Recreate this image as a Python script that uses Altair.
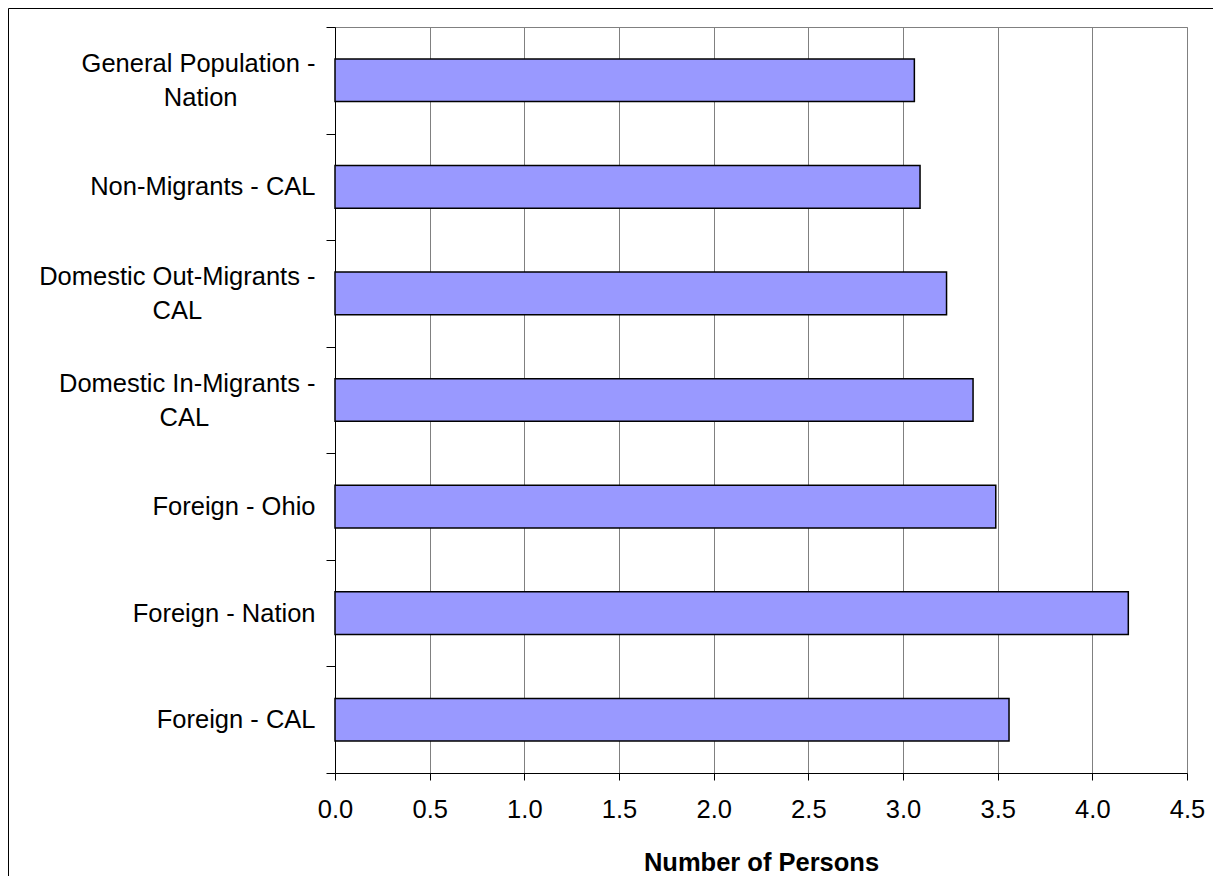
import altair as alt
import pandas as pd

# ---- data ----
categories = [
    "General Population - Nation",
    "Non-Migrants - CAL",
    "Domestic Out-Migrants - CAL",
    "Domestic In-Migrants - CAL",
    "Foreign - Ohio",
    "Foreign - Nation",
    "Foreign - CAL",
]
label_lines = [
    ["General Population -", "Nation"],
    ["Non-Migrants - CAL"],
    ["Domestic Out-Migrants -", "CAL"],
    ["Domestic In-Migrants -", "CAL"],
    ["Foreign - Ohio"],
    ["Foreign - Nation"],
    ["Foreign - CAL"],
]
values = [3.06, 3.09, 3.23, 3.37, 3.49, 4.19, 3.56]
x_ticks = [0.0, 0.5, 1.0, 1.5, 2.0, 2.5, 3.0, 3.5, 4.0, 4.5]

# approximate Arial glyph widths (em) used to centre the second line of wrapped labels
W = {'G': .778, 'e': .556, 'n': .556, 'r': .333, 'a': .556, 'l': .222, ' ': .278,
     'P': .667, 'o': .556, 'p': .556, 'u': .556, 't': .278, 'i': .222, '-': .333,
     'N': .722, 'D': .722, 'm': .833, 's': .5, 'c': .5, 'O': .778, 'I': .278,
     'M': .833, 'g': .556, 'C': .722, 'A': .667, 'L': .556}

ZWSP = "\u200b"


def width(s):
    return sum(W.get(ch, .556) for ch in s)


def make_label(lines):
    if len(lines) == 1:
        return lines[0]
    pad = int(round((width(lines[0]) - width(lines[1])) / 2 / 0.278))
    # trailing no-break spaces centre the short line; the zero-width space keeps them from being trimmed
    return lines[0] + "|" + lines[1] + "\u00a0" * pad + ZWSP


labels = [make_label(l) for l in label_lines]

df = pd.DataFrame({"category": categories, "label": labels, "value": values})

FONT = "Liberation Sans, Arial, sans-serif"
FS = 25.5

# two-line labels -> [line1, blank, line2]; one-line labels -> [blank, text]  (half-line spacing 17px,
# shifted up by 17px, so both kinds are vertically centred on their band). The blank line holds a
# zero-width space so that the browser still applies its line advance.
LABEL_EXPR = ("indexof(datum.label, '|') >= 0 ? "
              "split(replace(datum.label, '|', '|" + ZWSP + "|'), '|') : ['" + ZWSP + "', datum.label]")

bars = alt.Chart(df).mark_bar(
    height={"band": 0.4}, fill="#9999FF", stroke="black", strokeWidth=1.5
).encode(
    y=alt.Y(
        "label:N",
        sort=labels,
        scale=alt.Scale(paddingInner=0, paddingOuter=0),
        axis=alt.Axis(
            title=None,
            tickBand="extent",
            labelExpr=LABEL_EXPR,
            labelOffset=-17,
            labelFont=FONT,
            labelFontSize=FS,
            labelColor="black",
            labelLineHeight=17,
            labelPadding=11,
            labelLimit=400,
            tickSize=9,
            tickColor="black",
            domainColor="black",
            grid=False,
        ),
    ),
    x=alt.X(
        "value:Q",
        scale=alt.Scale(domain=[0, 4.5], nice=False, zero=True),
        axis=alt.Axis(
            title="Number of Persons",
            values=x_ticks,
            format=".1f",
            grid=True,
            gridColor="#808080",
            gridWidth=1,
            gridOpacity=1,
            labelFont=FONT,
            labelFontSize=FS,
            labelColor="black",
            labelPadding=17,
            labelFlush=False,
            labelOverlap=False,
            tickSize=7,
            tickColor="black",
            domainColor="black",
            titleFont=FONT,
            titleFontSize=FS,
            titleFontWeight="bold",
            titleColor="black",
            titleBaseline="alphabetic",
            titleY=97,
        ),
    ),
)

frame = alt.Chart(pd.DataFrame({"k": [0]})).mark_rect(
    filled=False, stroke="black", strokeWidth=1
).encode(
    x=alt.value(-326.5),
    x2=alt.value(1000),
    y=alt.value(-18.5),
    y2=alt.value(1000),
)

chart = alt.layer(bars, frame).properties(
    width=852,
    height=746,
    autosize=alt.AutoSizeParams(type="none"),
    padding={"left": 327, "top": 19, "right": 26, "bottom": 103},
    background="white",
).configure_view(stroke="#808080", strokeWidth=1)

chart.save("out.html", embed_options={"renderer": "svg", "actions": False})
